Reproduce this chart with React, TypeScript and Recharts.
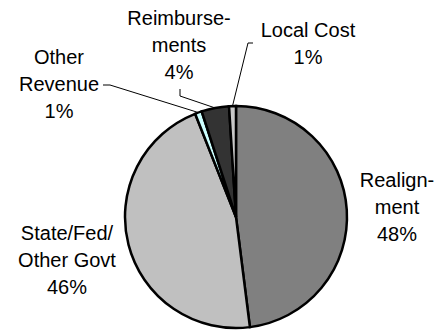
import { Pie, PieChart, Cell } from 'recharts';

const categories = ['Realignment', 'State/Fed/Other Govt', 'Other Revenue', 'Reimbursements', 'Local Cost'];
const shares = [48, 46, 1, 4, 1];
const labelText = [
  ['Realign-', 'ment', '48%'],
  ['State/Fed/', 'Other Govt', '46%'],
  ['Other', 'Revenue', '1%'],
  ['Reimburse-', 'ments', '4%'],
  ['Local Cost', '1%'],
];

const colors = ['#808080', '#C0C0C0', '#CCFFFF', '#333333', '#C8C8C8'];

// label anchor (centre x, first baseline) and leader elbow, per slice
const labelLayout = [
  { x: 397, y: 187, line: null },
  { x: 67, y: 240, line: null },
  { x: 59, y: 64, line: [[103, 85], [110, 85]] },
  { x: 179, y: 25, line: [[180, 89], [180, 96]] },
  { x: 308, y: 37, line: [[253, 43], [248, 43]] },
];

const data = categories.map((name, i) => ({ name, value: shares[i] }));

const RAD = Math.PI / 180;

function renderLabel(props: any) {
  const { cx, cy, midAngle, outerRadius, index } = props;
  const layout = labelLayout[index];
  const lines = labelText[index];
  let leader = null;
  if (layout.line) {
    const ex = cx + outerRadius * Math.cos(-midAngle * RAD);
    const ey = cy + outerRadius * Math.sin(-midAngle * RAD);
    const pts = [...layout.line, [ex, ey]].map((p) => p.join(',')).join(' ');
    leader = <polyline points={pts} fill='none' stroke='#000' strokeWidth={1} />;
  }
  return (
    <g key={`label-${index}`}>
      {leader}
      <text
        x={layout.x}
        y={layout.y}
        textAnchor='middle'
        fontFamily='"Liberation Sans", Arial, sans-serif'
        fontSize={20}
        fill='#000'
      >
        {lines.map((t, i) => (
          <tspan key={i} x={layout.x} dy={i === 0 ? 0 : 27}>
            {t}
          </tspan>
        ))}
      </text>
    </g>
  );
}

export default function App() {
  return (
    <div style={{ position: 'absolute', left: 0, top: 0, background: '#fff' }}>
      <PieChart width={442} height={330} margin={{ top: 0, right: 0, bottom: 0, left: 0 }}>
        <Pie
          data={data}
          dataKey='value'
          nameKey='name'
          cx={236}
          cy={217}
          outerRadius={111}
          startAngle={90}
          endAngle={-270}
          stroke='#000'
          strokeWidth={2.5}
          label={renderLabel}
          labelLine={false}
          isAnimationActive={false}
        >
          {data.map((d, i) => (
            <Cell key={d.name} fill={colors[i]} />
          ))}
        </Pie>
      </PieChart>
    </div>
  );
}
